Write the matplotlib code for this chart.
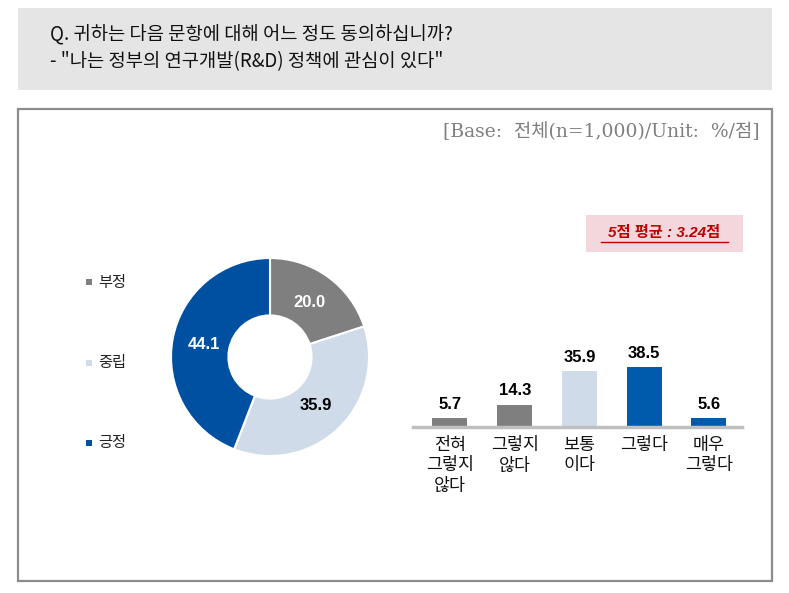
import matplotlib
matplotlib.use("Agg")
import matplotlib.pyplot as plt
import numpy as np
from matplotlib.patches import Rectangle

plt.rcParams["font.family"] = ["Noto Sans CJK KR", "DejaVu Sans"]

W, H = 789, 593

# data
question = "Q. 귀하는 다음 문항에 대해 어느 정도 동의하십니까?"
statement = '- "나는 정부의 연구개발(R&D) 정책에 관심이 있다"'
base_note = "[Base:  전체(n=1,000)/Unit:  %/점]"
avg_note = "5점 평균 : 3.24점"

donut_labels = ["부정", "중립", "긍정"]
donut_values = [20.0, 35.9, 44.1]
donut_colors = ["#7f7f7f", "#cfdbe8", "#0050a2"]
donut_text_colors = ["white", "black", "white"]

bar_labels = ["전혀\n그렇지\n않다", "그렇지\n않다", "보통\n이다", "그렇다", "매우\n그렇다"]
bar_values = [5.7, 14.3, 35.9, 38.5, 5.6]
bar_colors = ["#7f7f7f", "#7f7f7f", "#cfdbe8", "#005bac", "#005bac"]


def px_axes(fig, x0, y0, x1, y1):
    # pixel box (top-left origin) -> figure axes
    return fig.add_axes([x0 / W, 1 - y1 / H, (x1 - x0) / W, (y1 - y0) / H])


fig = plt.figure(figsize=(W / 100, H / 100), dpi=100)

# background frame
bg = fig.add_axes([0, 0, 1, 1])
bg.set_xlim(0, W)
bg.set_ylim(H, 0)
bg.axis("off")
bg.add_patch(Rectangle((18, 8), 754, 82, facecolor="#e5e5e5", edgecolor="none"))
bg.add_patch(Rectangle((18, 109), 754, 472, facecolor="white", edgecolor="#8c8c8c", lw=1.6))
bg.text(50, 35, question, fontsize=13.5, va="center", ha="left", color="#111111")
bg.text(50, 62, statement, fontsize=13.5, va="center", ha="left", color="#111111")
bg.text(760, 132, base_note, fontsize=13.5, va="center", ha="right", color="#7f7f7f",
        family=["DejaVu Serif", "Noto Sans CJK KR"])
bg.add_patch(Rectangle((586, 215), 157, 37, facecolor="#f3d7dd", edgecolor="none"))
bg.text(664.5, 233, avg_note, fontsize=11, va="center", ha="center", color="#c00000",
        fontweight="bold", fontstyle="italic", family=["Liberation Sans", "Noto Sans CJK KR"])
bg.plot([601, 728], [242, 242], color="#c00000", lw=1)

# legend
for i, (lab, col) in enumerate(zip(donut_labels, donut_colors)):
    y = 282 + i * 80.5
    bg.add_patch(Rectangle((86, y - 3), 6, 6, facecolor=col, edgecolor="none"))
    bg.text(98, y, lab, fontsize=11, va="center", ha="left", color="#222222")

# donut
ax = px_axes(fig, 171, 258, 369, 456)
wedges, _ = ax.pie(donut_values, colors=donut_colors, startangle=90, counterclock=False,
                   radius=1, wedgeprops=dict(width=0.58, edgecolor="white", linewidth=1.5))
ax.set_xlim(-1, 1)
ax.set_ylim(-1, 1)
ax.set_aspect("auto")
for w, v, tc in zip(wedges, donut_values, donut_text_colors):
    ang = np.deg2rad((w.theta1 + w.theta2) / 2)
    ax.text(0.68 * np.cos(ang), 0.68 * np.sin(ang), f"{v:.1f}", ha="center", va="center",
            fontsize=12, fontweight="bold", color=tc, family="Liberation Sans")

# bars
bx = px_axes(fig, 413, 330, 742, 427)
x = np.arange(len(bar_values))
bx.bar(x, bar_values, width=0.54, color=bar_colors)
bx.set_xlim(-0.571, 4.51)
bx.set_ylim(0, 62)
bx.axhline(0, color="#bfbfbf", lw=2.5, clip_on=False)
for xi, v in zip(x, bar_values):
    bx.text(xi, v + 4, f"{v:.1f}", ha="center", va="bottom", fontsize=12,
            fontweight="bold", family="Liberation Sans")
for xi, lab in zip(x, bar_labels):
    bx.text(xi, -6, lab, ha="center", va="top", fontsize=12.5, linespacing=1.15,
            color="#111111")
bx.axis("off")

fig.savefig("out.png", dpi=100)
